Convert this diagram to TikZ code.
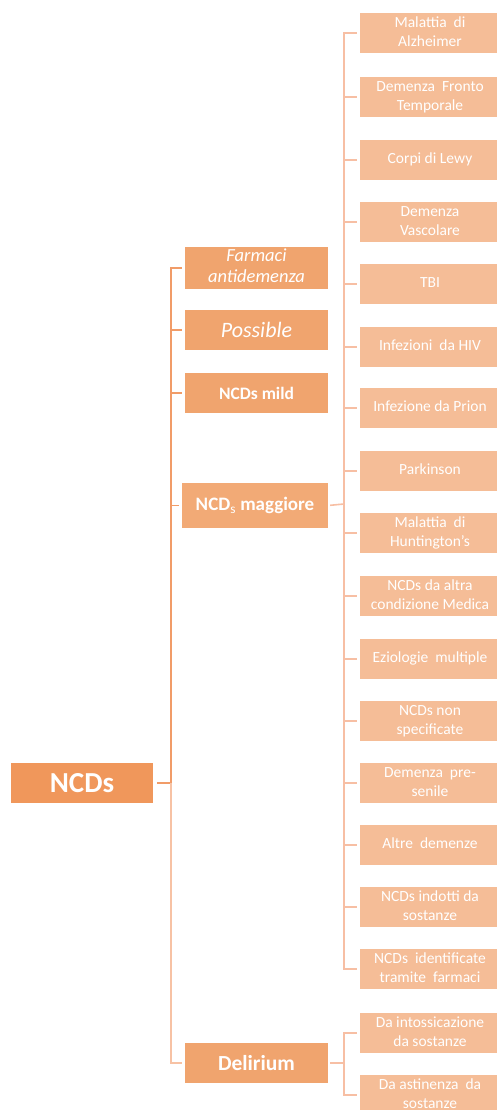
\documentclass[tikz,border=0pt]{standalone}
\usepackage{fontspec}
\setmainfont{Carlito}
\usetikzlibrary{positioning}

\definecolor{rootc}{HTML}{F0975B}
\definecolor{midc}{HTML}{F0A46E}
\definecolor{majc}{HTML}{F2AA76}
\definecolor{leafc}{HTML}{F5BD97}
\definecolor{trunkc}{HTML}{F19C68}
\definecolor{trunklow}{HTML}{F7C2A4}
\definecolor{twigc}{HTML}{F7BFA4}

\newcommand{\boxtext}[1]{\makebox[0pt]{\begin{tabular}{@{}c@{}}#1\end{tabular}}}

\begin{document}
\begin{tikzpicture}[x=1pt, y=-1pt,
    root/.style={fill=rootc, text=white, minimum width=142pt, minimum height=40pt, inner sep=0pt, font=\fontsize{29}{32}\selectfont\bfseries},
    mid/.style={fill=midc, text=white, minimum width=143pt, minimum height=40pt, inner sep=0pt, font=\fontsize{17.5}{21}\selectfont\bfseries},
    leaf/.style={fill=leafc, text=white, minimum width=140pt, minimum height=40pt, inner sep=0pt, font=\fontsize{15.5}{19}\selectfont},
    branch/.style={draw=trunkc, line width=1.8pt, shorten >=3pt},
    twig/.style={draw=twigc, line width=1.6pt, shorten >=3pt}]
    \useasboundingbox (0,0) rectangle (496,1110);

    % root
    \node[root] (ncds) at (82,783) {NCDs};

    % second level
    \node[mid, font=\fontsize{18.5}{21}\selectfont\itshape] (farmaci) at (256.5,268) {\boxtext{Farmaci\\antidemenza}};
    \node[mid, font=\fontsize{22}{24}\selectfont\itshape] (possible) at (256.5,330) {Possible};
    \node[mid] (mild) at (256.5,393) {NCDs mild};
    \node[mid, fill=majc, minimum width=146pt, minimum height=45pt, font=\fontsize{19}{22}\selectfont\bfseries] (maggiore) at (255,505.5) {NCD$_\mathrm{s}$ maggiore};
    \node[mid, font=\fontsize{21.5}{24}\selectfont\bfseries] (delirium) at (256.5,1063) {Delirium};

    % leaves of NCDs maggiore
    \node[leaf] (alz) at (430,33) {\boxtext{Malattia~~di\\Alzheimer}};
    \node[leaf] (fronto) at (430,97) {\boxtext{Demenza~~Fronto\\Temporale}};
    \node[leaf] (lewy) at (430,160) {\boxtext{Corpi di Lewy}};
    \node[leaf] (vasc) at (430,222) {\boxtext{Demenza\\Vascolare}};
    \node[leaf] (tbi) at (430,284) {\boxtext{TBI}};
    \node[leaf] (hiv) at (430,347) {\boxtext{Infezioni~~da HIV}};
    \node[leaf] (prion) at (430,408) {\boxtext{Infezione da Prion}};
    \node[leaf] (park) at (430,471) {\boxtext{Parkinson}};
    \node[leaf] (hunt) at (430,533) {\boxtext{Malattia~~di\\Huntington's}};
    \node[leaf] (medica) at (430,596) {\boxtext{NCDs da altra\\condizione Medica}};
    \node[leaf] (ezio) at (430,659) {\boxtext{Eziologie~~multiple}};
    \node[leaf] (nonspec) at (430,721) {\boxtext{NCDs non\\specificate}};
    \node[leaf] (presen) at (430,783) {\boxtext{Demenza~~pre-\\senile}};
    \node[leaf] (altre) at (430,845) {\boxtext{Altre~~demenze}};
    \node[leaf] (indotti) at (430,907) {\boxtext{NCDs indotti da\\sostanze}};
    \node[leaf] (farm) at (430,969) {\boxtext{NCDs~~identificate\\tramite~~farmaci}};

    % leaves of Delirium
    \node[leaf] (intox) at (430,1033) {\boxtext{Da intossicazione\\da sostanze}};
    \node[leaf] (asti) at (430,1095) {\boxtext{Da astinenza~~da\\sostanze}};

    % junctions
    \coordinate (trunk) at (171,783);
    \coordinate (stem) at (344,504);
    \coordinate (dstem) at (344,1063);

    % first level connectors
    \draw[branch, shorten >=0pt, shorten <=4pt] (ncds.east) -- (trunk);
    \draw[branch] (trunk) |- (farmaci.west);
    \draw[branch] (trunk) |- (possible.west);
    \draw[branch] (trunk) |- (mild.west);
    \draw[branch] (trunk) |- (maggiore.west);
    \draw[branch, draw=trunklow] (trunk) |- (delirium.west);

    % second level connectors
    \draw[twig, shorten >=0pt, shorten <=2pt] (maggiore.east) -- (stem);
    \draw[twig] (stem) |- (alz.west);
    \draw[twig] (stem) |- (fronto.west);
    \draw[twig] (stem) |- (lewy.west);
    \draw[twig] (stem) |- (vasc.west);
    \draw[twig] (stem) |- (tbi.west);
    \draw[twig] (stem) |- (hiv.west);
    \draw[twig] (stem) |- (prion.west);
    \draw[twig] (stem) |- (park.west);
    \draw[twig] (stem) |- (hunt.west);
    \draw[twig] (stem) |- (medica.west);
    \draw[twig] (stem) |- (ezio.west);
    \draw[twig] (stem) |- (nonspec.west);
    \draw[twig] (stem) |- (presen.west);
    \draw[twig] (stem) |- (altre.west);
    \draw[twig] (stem) |- (indotti.west);
    \draw[twig] (stem) |- (farm.west);

    \draw[twig, shorten >=0pt, shorten <=2pt] (delirium.east) -- (dstem);
    \draw[twig] (dstem) |- (intox.west);
    \draw[twig] (dstem) |- (asti.west);
\end{tikzpicture}
\end{document}
